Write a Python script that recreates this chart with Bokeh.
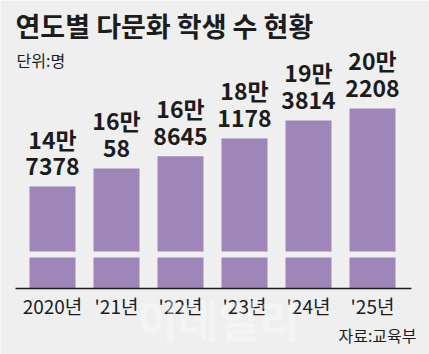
from bokeh.plotting import figure
from bokeh.models import Range1d, Label, BoxAnnotation, ColumnDataSource
from bokeh.core.properties import value
from bokeh.embed import file_html
from bokeh.resources import INLINE

years = ["2020년", "'21년", "'22년", "'23년", "'24년", "'25년"]
students = [147378, 160058, 168645, 181178, 193814, 202208]

title_text = "연도별 다문화 학생 수 현황"
unit_text = "단위:명"
source_text = "자료:교육부"

BG = "#efefef"
BAR = "#9e86b9"
INK = "#1c1c1c"
FONT = "Noto Sans CJK KR"

Y_BASE = 75700          # value at the axis line (broken axis)
X_LO, X_HI = -0.578, 5.609   # extent of the axis line

xs = list(range(len(years)))
line1 = [f"{v // 10000}만" for v in students]
line2 = [f"{v % 10000}" for v in students]
src = ColumnDataSource(dict(x=xs, v=students, l1=line1, l2=line2,
                            yr=years, base=[Y_BASE] * len(xs)))

p = figure(width=429, height=354, output_backend="svg", toolbar_location=None,
           x_range=Range1d(-0.8125, 5.890625), y_range=Range1d(29315, 278106),
           min_border=0)
p.background_fill_color = BG
p.border_fill_color = BG
p.outline_line_color = None
p.grid.visible = False
p.axis.visible = False

p.vbar(x="x", top="v", bottom=Y_BASE, width=0.71875, source=src,
       fill_color=BAR, line_color=None)

# axis break strip
p.add_layout(BoxAnnotation(bottom=97500, top=101700, fill_color=BG, fill_alpha=1,
                           line_color=None))

# axis line
p.segment(x0=[X_LO], x1=[X_HI], y0=[Y_BASE], y1=[Y_BASE], line_color=INK, line_width=1.5)

# watermark
p.add_layout(Label(x=218, y=36, x_units="screen", y_units="screen", text="이데일리",
                   text_font=FONT, text_font_style="bold", text_font_size="44px",
                   text_color="white", text_alpha=0.35, text_align="center",
                   text_baseline="middle"))

# year labels
p.text(x="x", y="base", text="yr", text_align="center", text_baseline="alphabetic",
       y_offset=17, text_font=value(FONT), text_font_size="19px", text_color=INK,
       source=src)

common = dict(text_align="center", text_font=value(FONT), text_font_style="bold",
              text_font_size="23px", text_color=INK, source=src)
p.text(x="x", y="v", text="l2", text_baseline="alphabetic", y_offset=-20, **common)
p.text(x="x", y="v", text="l1", text_baseline="alphabetic", y_offset=-48, **common)

p.add_layout(Label(x=15, y=329, x_units="screen", y_units="screen", text=title_text,
                   text_font=FONT, text_font_style="bold", text_font_size="27px",
                   text_color=INK, text_baseline="alphabetic"))
p.add_layout(Label(x=16, y=295, x_units="screen", y_units="screen", text=unit_text,
                   text_font=FONT, text_font_size="16px",
                   text_color=INK, text_baseline="alphabetic"))
p.add_layout(Label(x=416, y=20, x_units="screen", y_units="screen", text=source_text,
                   text_font=FONT, text_font_size="16px", text_align="right",
                   text_color=INK, text_baseline="alphabetic"))

open("out.html", "w").write(file_html(p, INLINE))
